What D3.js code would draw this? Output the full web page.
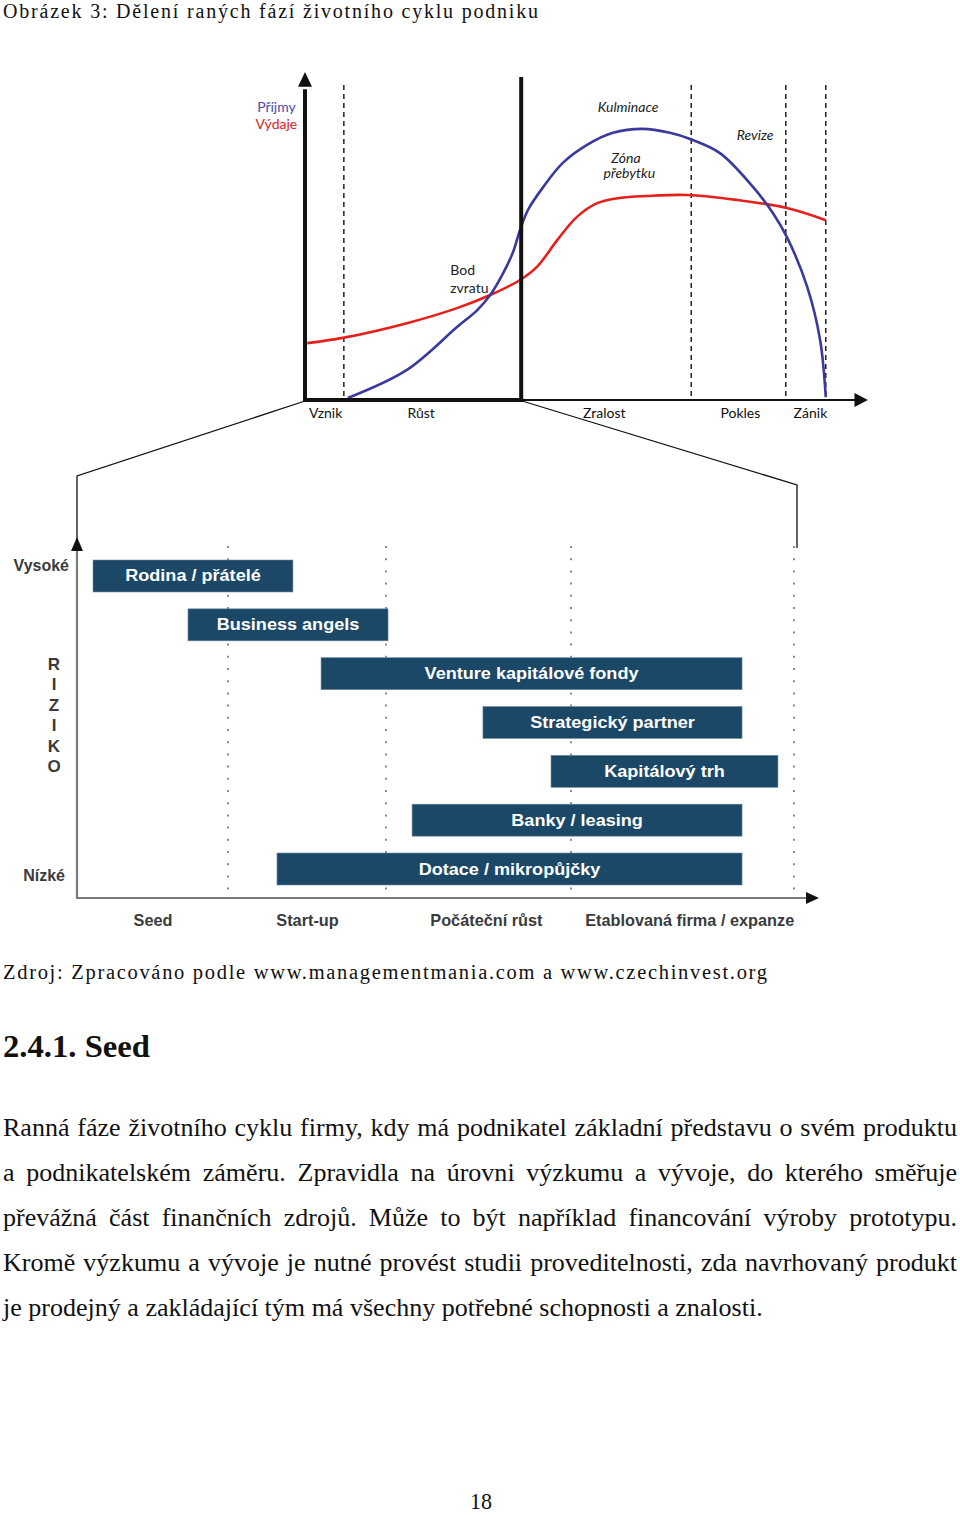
<!DOCTYPE html>
<html><head><meta charset="utf-8">
<script src="https://cdn.jsdelivr.net/npm/d3@7"></script>
<style>body{margin:0;background:#fff}svg{display:block}</style>
</head><body>
<svg id="c" width="960" height="1515"></svg>
<script>
// ---------- DATA ----------
// Top chart: life cycle (x = time units 0..100, y = value units 0..100)
const revenueX = [7.6, 18.1, 27.0, 30.6, 32.9, 35.2, 36.9, 38.2, 39.6, 42.3, 45.8, 50.1, 54.7, 60.0, 64.8, 68.4, 73.7, 79.6, 83.1, 85.6, 89.2, 91.5, 92.5];
const revenueY = [0.6, 9.2, 22.3, 27.5, 32.1, 38.8, 45.0, 52.0, 58.1, 65.1, 72.5, 78.0, 81.7, 82.9, 81.7, 79.8, 75.5, 65.1, 57.2, 49.8, 34.6, 18.3, 0.9];
const expenseX = [0.4, 6.7, 18.1, 27.0, 32.9, 38.2, 41.2, 44.8, 48.3, 51.9, 55.9, 60.7, 67.9, 76.7, 85.6, 92.5];
const expenseY = [17.4, 19.0, 23.5, 28.1, 32.1, 36.7, 40.7, 48.9, 56.0, 60.2, 61.8, 62.4, 62.7, 61.2, 58.7, 55.0];
const phases = ["Vznik", "Růst", "Zralost", "Pokles", "Zánik"];
const phaseLabelAt = [0.6, 18.1, 49.3, 73.7, 86.7];
const phaseDividers = [6.9, 68.6, 85.4, 92.5];
const earlyBoundary = 38.4;

// Bottom chart: financing sources (x = stage units 0..4)
const stages = ["Seed", "Start-up", "Počáteční růst", "Etablovaná firma / expanze"];
const stageLabelAt = [0.5, 1.5, 2.54, 3.53];
const sources = ["Rodina / přátelé", "Business angels", "Venture kapitálové fondy", "Strategický partner", "Kapitálový trh", "Banky / leasing", "Dotace / mikropůjčky"];
const sourceStart = [0.106, 0.735, 1.589, 2.524, 2.892, 2.141, 1.310];
const sourceEnd   = [1.411, 2.011, 3.767, 3.767, 3.928, 3.767, 3.767];
const riskHigh = "Vysoké", riskLow = "Nízké", riskWord = "RIZIKO";

// Texts
const titleText = "Obrázek 3: Dělení raných fází životního cyklu podniku";
const sourceText = "Zdroj: Zpracováno podle www.managementmania.com a www.czechinvest.org";
const headingText = "2.4.1. Seed";
const bodyLines = [
  "Ranná fáze životního cyklu firmy, kdy má podnikatel základní představu o svém produktu",
  "a podnikatelském záměru. Zpravidla na úrovni výzkumu a vývoje, do kterého směřuje",
  "převážná část finančních zdrojů. Může to být například financování výroby prototypu.",
  "Kromě výzkumu a vývoje je nutné provést studii proveditelnosti, zda navrhovaný produkt",
  "je prodejný a zakládající tým má všechny potřebné schopnosti a znalosti."
];
const pageNumber = "18";

// ---------- DRAW ----------
const svg = d3.select('#c');
const serif = "'Liberation Serif','Times New Roman',serif";
const sans = "'Liberation Sans',Arial,sans-serif";
const lato = "Lato,'Open Sans',sans-serif";

// Title
svg.append('text').attr('x', 3).attr('y', 18).text(titleText)
  .attr('font-family', serif).attr('font-size', 20).attr('fill', '#111')
  .attr('textLength', 535).attr('lengthAdjust', 'spacing');

// ===== TOP CHART =====
const xT = d3.scaleLinear().domain([0, 100]).range([305, 868]);
const yT = d3.scaleLinear().domain([0, 100]).range([400, 73]);
const gTop = svg.append('g');

// dashed dividers
gTop.selectAll('line.div').data(phaseDividers).join('line')
  .attr('x1', d => xT(d)).attr('x2', d => xT(d))
  .attr('y1', yT(96.3)).attr('y2', yT(0))
  .attr('stroke', '#111').attr('stroke-width', 1.4).attr('stroke-dasharray', '5,4');

// curves
const mk = (xs, ys) => d3.line().x((d, i) => xT(xs[i])).y((d, i) => yT(ys[i])).curve(d3.curveCatmullRom.alpha(0.5))(xs);
gTop.append('path').attr('d', mk(expenseX, expenseY)).attr('fill', 'none').attr('stroke', '#e5201c').attr('stroke-width', 2.6);
gTop.append('path').attr('d', mk(revenueX, revenueY)).attr('fill', 'none').attr('stroke', '#3a3a9e').attr('stroke-width', 2.6);

// axes
gTop.append('line').attr('x1', xT(earlyBoundary)).attr('x2', xT(97.7)).attr('y1', yT(0)).attr('y2', yT(0))
  .attr('stroke', '#111').attr('stroke-width', 2);
gTop.append('path').attr('d', `M${xT(100)},${yT(0)}L${xT(97.6)},${yT(0) - 7}L${xT(97.6)},${yT(0) + 7}Z`).attr('fill', '#111');
gTop.append('line').attr('x1', xT(0)).attr('x2', xT(0)).attr('y1', yT(0) + 2).attr('y2', yT(95))
  .attr('stroke', '#111').attr('stroke-width', 4);
gTop.append('path').attr('d', `M${xT(0)},${yT(100) - 1}L${xT(0) - 7},${yT(95.8)}L${xT(0) + 7},${yT(95.8)}Z`).attr('fill', '#111');
gTop.append('line').attr('x1', xT(0)).attr('x2', xT(earlyBoundary) + 2).attr('y1', yT(0)).attr('y2', yT(0))
  .attr('stroke', '#111').attr('stroke-width', 4);
gTop.append('line').attr('x1', xT(earlyBoundary)).attr('x2', xT(earlyBoundary)).attr('y1', yT(0) + 2).attr('y2', yT(98.8))
  .attr('stroke', '#111').attr('stroke-width', 4);

// phase labels via axis
const axT = d3.axisBottom(xT).tickValues(phaseLabelAt).tickSize(0).tickPadding(0)
  .tickFormat((d, i) => phases[i]);
const gAx = gTop.append('g').attr('transform', `translate(0,${yT(0) + 5})`).call(axT);
gAx.select('.domain').remove();
gAx.selectAll('text').attr('text-anchor', 'start').attr('dy', '0.9em')
  .attr('font-family', lato).attr('font-size', 14).attr('fill', '#111');

// annotations
const ann = (x, y, t, opts = {}) => gTop.append('text').attr('x', xT(x)).attr('y', yT(y)).text(t)
  .attr('font-family', lato).attr('font-size', opts.size || 14).attr('fill', opts.fill || '#222')
  .attr('font-style', opts.italic ? 'italic' : 'normal').attr('text-anchor', opts.anchor || 'start');
ann(-8.5, 88.1, "Příjmy", { fill: '#4a4aa8' });
ann(-8.8, 83.0, "Výdaje", { fill: '#e0201c' });
ann(25.8, 38.3, "Bod");
ann(25.8, 32.8, "zvratu");
ann(52.0, 88.1, "Kulminace", { italic: true });
ann(57.0, 72.4, "Zóna", { italic: true, anchor: 'middle' });
ann(57.6, 68.0, "přebytku", { italic: true, anchor: 'middle' });
ann(76.7, 79.5, "Revize", { italic: true });

// ===== BOTTOM CHART =====
const xB = d3.scaleLinear().domain([0, 1, 2, 3, 4]).range([77, 228, 386, 571, 794]);
const yB = d3.scaleBand().domain(sources).range([560, 885]).paddingInner(0.345).paddingOuter(0);
const gBot = svg.append('g');

// connectors from top chart
svg.append('path').attr('d', `M${xT(0)},${yT(0) + 1}L${xB(0)},476L${xB(0)},546`)
  .attr('fill', 'none').attr('stroke', '#111').attr('stroke-width', 1.3);
svg.append('path').attr('d', `M${xT(earlyBoundary) + 1},${yT(0) + 1}L${xB(4) + 3},485L${xB(4) + 3},548`)
  .attr('fill', 'none').attr('stroke', '#111').attr('stroke-width', 1.3);

// dotted stage dividers
gBot.selectAll('line.st').data([1, 2, 3, 4]).join('line')
  .attr('x1', d => xB(d)).attr('x2', d => xB(d)).attr('y1', 546).attr('y2', 898)
  .attr('stroke', '#8a8a8a').attr('stroke-width', 2).attr('stroke-dasharray', '2,10.2');

// bars
gBot.selectAll('rect.bar').data(sources).join('rect')
  .attr('x', (d, i) => xB(sourceStart[i])).attr('width', (d, i) => xB(sourceEnd[i]) - xB(sourceStart[i]))
  .attr('y', d => yB(d)).attr('height', yB.bandwidth())
  .attr('fill', '#1c4868').attr('stroke', '#6f8ba0').attr('stroke-width', 0.6);
gBot.selectAll('text.bl').data(sources).join('text')
  .attr('transform', (d, i) => `translate(${(xB(sourceStart[i]) + xB(sourceEnd[i])) / 2},${yB(d) + yB.bandwidth() / 2 + 5.5}) scale(1.13,1)`)
  .attr('text-anchor', 'middle').text(d => d)
  .attr('font-family', sans).attr('font-weight', 'bold').attr('font-size', 16).attr('fill', '#fff');

// axes
gBot.append('line').attr('x1', xB(0)).attr('x2', xB(0)).attr('y1', 899).attr('y2', 548)
  .attr('stroke', '#7a7a7a').attr('stroke-width', 2.2);
gBot.append('path').attr('d', `M${xB(0)},537L${xB(0) - 6},551L${xB(0) + 6},551Z`).attr('fill', '#111');
gBot.append('line').attr('x1', xB(0) - 1).attr('x2', 808).attr('y1', 898).attr('y2', 898)
  .attr('stroke', '#7a7a7a').attr('stroke-width', 2.2);
gBot.append('path').attr('d', `M819,898L806,892L806,904Z`).attr('fill', '#111');

const axB = d3.axisBottom(xB).tickValues(stageLabelAt).tickSize(0).tickPadding(0).tickFormat((d, i) => stages[i]);
const gB = gBot.append('g').attr('transform', 'translate(0,914)').call(axB);
gB.select('.domain').remove();
gB.selectAll('text').attr('dy', '0.75em').attr('font-family', sans).attr('font-weight', 'bold')
  .attr('font-size', 16.3).attr('fill', '#3b3b3b');

// risk labels
gBot.append('text').attr('x', 69).attr('y', 571).attr('text-anchor', 'end').text(riskHigh)
  .attr('font-family', sans).attr('font-weight', 'bold').attr('font-size', 16).attr('fill', '#3b3b3b');
gBot.append('text').attr('x', 65).attr('y', 881).attr('text-anchor', 'end').text(riskLow)
  .attr('font-family', sans).attr('font-weight', 'bold').attr('font-size', 16).attr('fill', '#3b3b3b');
gBot.selectAll('text.rz').data(riskWord.split('')).join('text')
  .attr('x', 54).attr('y', (d, i) => 670 + i * 20.4).attr('text-anchor', 'middle').text(d => d)
  .attr('font-family', sans).attr('font-weight', 'bold').attr('font-size', 17).attr('fill', '#3b3b3b');

// ===== TEXT BELOW =====
svg.append('text').attr('x', 3).attr('y', 979).text(sourceText)
  .attr('font-family', serif).attr('font-size', 20.5).attr('fill', '#111')
  .attr('textLength', 764).attr('lengthAdjust', 'spacing');
svg.append('text').attr('x', 3).attr('y', 1057).text(headingText)
  .attr('font-family', serif).attr('font-weight', 'bold').attr('font-size', 31).attr('fill', '#111')
  .attr('textLength', 147).attr('lengthAdjust', 'spacingAndGlyphs');

const body = svg.append('g');
const tl = bodyLines.map((t, i) => body.append('text').attr('y', 1136 + i * 45).text(t)
  .attr('font-family', serif).attr('font-size', 25).attr('fill', '#111'));
const lastW = tl[tl.length - 1].node().getComputedTextLength();
const sx = 760 / lastW;
tl.forEach((s, i) => {
  s.attr('transform', `translate(3,0) scale(${sx},1)`);
  if (i < tl.length - 1) {
    const w = s.node().getComputedTextLength();
    const gaps = s.text().split(' ').length - 1;
    s.style('word-spacing', ((954 / sx - w) / gaps) + 'px');
  }
});

svg.append('text').attr('x', 481).attr('y', 1509).attr('text-anchor', 'middle').text(pageNumber)
  .attr('font-family', serif).attr('font-size', 24).attr('fill', '#111')
  .attr('textLength', 22).attr('lengthAdjust', 'spacingAndGlyphs');
</script>
</body></html>
